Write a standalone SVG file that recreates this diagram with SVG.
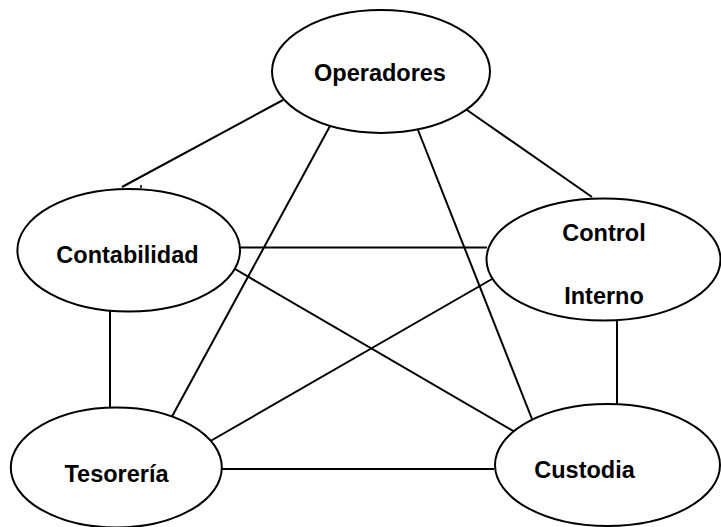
<svg xmlns="http://www.w3.org/2000/svg" width="721" height="527" viewBox="0 0 721 527">
<style>
.n{fill:#fff;stroke:#000;stroke-width:2}
.c line{stroke:#000;stroke-width:2}
text{font-family:"Liberation Sans",Arial,sans-serif;font-weight:bold;font-size:23.5px;fill:#000;text-anchor:middle}
</style>
<rect width="721" height="527" fill="#fff"/>
<g class="c" id="connectors">
<line x1="283" y1="100" x2="122" y2="187"/>
<line x1="141" y1="185" x2="141" y2="188" style="stroke-width:1.5"/>
<line x1="330" y1="126" x2="169" y2="422"/>
<line x1="418" y1="130" x2="532" y2="419"/>
<line x1="467" y1="110" x2="592" y2="197"/>
<line x1="240" y1="247.5" x2="487" y2="247.5"/>
<line x1="235" y1="269" x2="515" y2="432"/>
<line x1="110" y1="307" x2="110" y2="407"/>
<line x1="492" y1="279" x2="207" y2="443"/>
<line x1="617" y1="321" x2="617" y2="404"/>
<line x1="222" y1="469" x2="494" y2="469"/>
</g>
<g id="operadores">
<ellipse class="n" cx="381" cy="71.5" rx="109" ry="61.5"/>
<text x="380" y="81">Operadores</text>
</g>
<g id="contabilidad">
<ellipse class="n" cx="128.7" cy="250.3" rx="111.3" ry="61.3"/>
<text x="127.5" y="263">Contabilidad</text>
</g>
<g id="control-interno">
<ellipse class="n" cx="603.5" cy="259.5" rx="117" ry="61"/>
<text x="604" y="241">Control</text>
<text x="604" y="303.5">Interno</text>
</g>
<g id="tesoreria">
<ellipse class="n" cx="116.3" cy="467.5" rx="105.5" ry="60"/>
<text x="116.5" y="482">Tesorería</text>
</g>
<g id="custodia">
<ellipse class="n" cx="607.5" cy="465" rx="112.5" ry="61"/>
<text x="584.5" y="477.5">Custodia</text>
</g>
</svg>
